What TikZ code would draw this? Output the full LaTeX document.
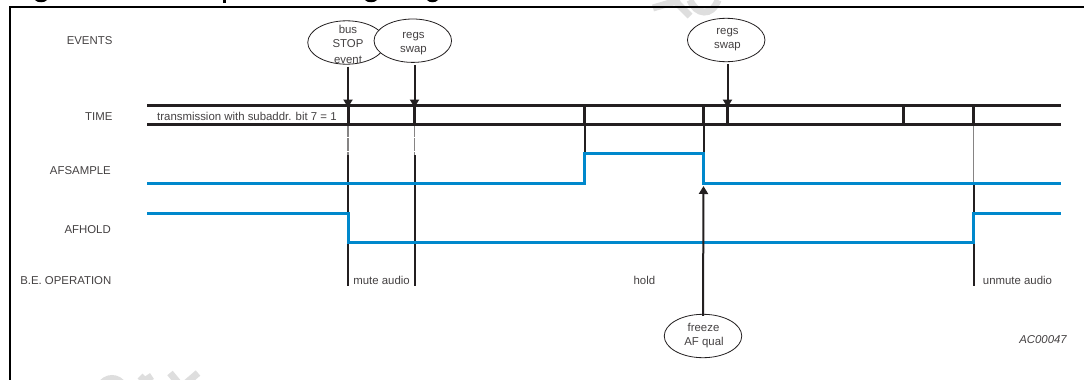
\documentclass[tikz,border=0pt]{standalone}
\usepackage{fontspec}
\setmainfont{Liberation Sans}
\usetikzlibrary{shapes.geometric,arrows.meta}
\definecolor{sigblue}{HTML}{0088CC}
\definecolor{ink}{HTML}{231F20}
\definecolor{wmark}{HTML}{DEDEDE}
\tikzset{
  x=1pt,y=-1pt,
  lab/.style={font=\fontsize{11.4}{13}\selectfont,text=ink!85,inner sep=0pt},
  leftlab/.style={lab,anchor=east},
  event/.style={draw=ink,line width=0.8pt,fill=white,ellipse,minimum width=77.5pt,minimum height=43.4pt,inner sep=0pt},
  rail/.style={draw=ink,line width=3pt},
  tick/.style={draw=ink,line width=3pt},
  drop/.style={draw=ink,line width=2pt},
  faint/.style={draw=ink!55,line width=1.5pt},
  signal/.style={draw=sigblue,line width=3pt,line join=miter},
  pointer/.style={draw=ink,line width=2pt,-{Triangle[length=8pt,width=9pt]}},
  wm/.style={draw=wmark,line width=7pt},
}
\begin{document}
\begin{tikzpicture}
\useasboundingbox (0,0) rectangle (1084,380);
\fill[white] (0,0) rectangle (1084,380);
% watermark fragments
\begin{scope}
\clip (0,0) rectangle (1084,380);
\draw[wm] (672,-2) -- (690,16);
\draw[wm] (653,8) -- (680,0);
\draw[wm] (690,0) .. controls (696,15) and (712,17) .. (718,0);
\draw[wm] (100,386) .. controls (106,376) and (118,376) .. (124,386);
\draw[wm] (140,376) -- (150,386);
\draw[wm] (146,380) -- (152,376);
\draw[wm] (170,373) -- (180,385);
\draw[wm] (198,373) -- (184,385);
% title fragments
\fill[black] (35,0) .. controls (37,3) and (45,3) .. (47,0) -- cycle;
\fill[black] (223,0) rectangle (226,2.5);
\fill[black] (365,0) .. controls (367,3) and (375,3) .. (377,0) -- cycle;
\fill[black] (427,0) .. controls (429,3) and (436,3) .. (438,0) -- cycle;
\end{scope}
% frame
\draw[black,line width=2pt] (10,380) -- (10,7) -- (1084,7);
% anchor positions
\coordinate (tA) at (348,105.5);
\coordinate (tB) at (414.5,105.5);
\coordinate (tC) at (584.5,105.5);
\coordinate (tD) at (703.5,105.5);
\coordinate (tE) at (727.5,105.5);
\coordinate (tF) at (903.5,105.5);
\coordinate (tG) at (973.5,105.5);
\coordinate (lA) at (147,105.5);
\coordinate (rA) at (1061,105.5);
\coordinate (lB) at (147,124.5);
\coordinate (rB) at (1061,124.5);
% row labels
\node[leftlab] (evLab) at (112.6,40.7) {EVENTS};
\node[leftlab] (tiLab) at (112.6,116.5) {TIME};
\node[leftlab] (saLab) at (111,170.7) {AFSAMPLE};
\node[leftlab] (hoLab) at (111,229.7) {AFHOLD};
\node[leftlab] (opLab) at (111.5,280.7) {B.E. OPERATION};
% vertical drop lines
\draw[faint] (348,124) -- (348,155);
\draw[faint] (414.5,124) -- (414.5,155);
\draw[white,line width=0.7pt] (346,137) -- (350,137) (346,151) -- (350,151);
\draw[white,line width=0.7pt] (412.5,137) -- (416.5,137) (412.5,151) -- (416.5,151);
\draw[drop] (348,155) -- (348,286);
\draw[drop] (414.5,155) -- (414.5,286);
\draw[drop] (584.5,124) -- (584.5,153);
\draw[drop] (703.5,124) -- (703.5,183);
\draw[faint,line width=0.8pt] (973.5,124) -- (973.5,183);
\draw[drop] (973.5,183) -- (973.5,286);
% signals
\draw[signal] (147,183.5) -- (584.5,183.5) -- (584.5,153.5) -- (703.5,153.5) -- (703.5,183.5) -- (1061,183.5);
\draw[signal] (147,213.5) -- (348,213.5) -- (348,242.5) -- (973.5,242.5) -- (973.5,213.5) -- (1061,213.5);
% time bus
\foreach \t in {tA,tB,tC,tD,tE,tF,tG}{\draw[tick] (\t) -- ++(0,19);}
\draw[rail] (lA) -- (rA);
\draw[rail] (lB) -- (rB);
\node[lab,anchor=west] (txt) at (157,116.5) {transmission with subaddr. bit 7 = 1};
% events
\node[event] (bus) at (346.5,42.5) {};
\node[lab] (busA) at (348,29) {bus};
\node[lab] (busB) at (348,44) {STOP};
\node[lab] (busC) at (348,59.5) {event};
\node[event] (swapA) at (412.8,40.7) {};
\node[lab] at (413.5,36.5) {regs};
\node[lab] at (413.5,50.5) {swap};
\node[event] (swapB) at (726.2,40) {};
\node[lab] at (727.5,32.5) {regs};
\node[lab] at (727.5,47) {swap};
\node[event] (freeze) at (703,336) {};
\node[lab] at (703.5,327.5) {freeze};
\node[lab] at (704,342.5) {AF qual};
% pointers
\draw[pointer] (tA |- bus.south) ++(0,2) -- ([yshift=-2pt]tA);
\draw[pointer] (tB |- swapA.south) ++(0,2) -- ([yshift=-2pt]tB);
\draw[pointer] (tE |- swapB.south) ++(0,2) -- ([yshift=-2pt]tE);
\draw[pointer] ([yshift=-2pt]freeze.north) -- (703.5,186);
% operations
\node[lab] (mute) at (381.6,280.8) {mute audio};
\node[lab] (hold) at (644.4,280.8) {hold};
\node[lab] (unmute) at (1017.5,280.8) {unmute audio};
\node[lab,font=\fontsize{11.4}{13}\selectfont\itshape,anchor=east] (ref) at (1067,339.7) {AC00047};
\end{tikzpicture}
\end{document}
